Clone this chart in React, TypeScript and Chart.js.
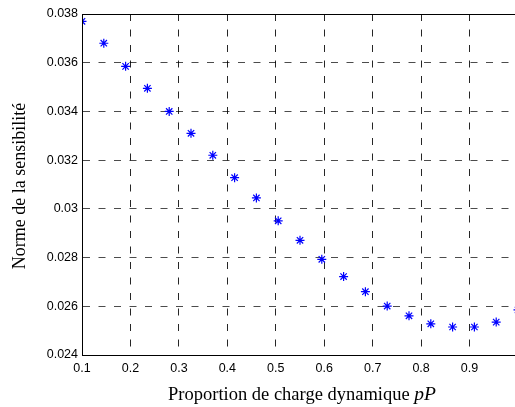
import React, { useEffect, useRef } from "react";
import { Chart, registerables } from "chart.js";

Chart.register(...registerables);

const proportions = [0.1, 0.145, 0.19, 0.235, 0.28, 0.325, 0.37, 0.415, 0.46, 0.505, 0.55, 0.595, 0.64, 0.685, 0.73, 0.775, 0.82, 0.865, 0.91, 0.955, 1.0];
const norms = [0.0377, 0.0368, 0.03585, 0.03495, 0.034, 0.0331, 0.0322, 0.03128, 0.03045, 0.02951, 0.02871, 0.02793, 0.02722, 0.0266, 0.02601, 0.02561, 0.02528, 0.02515, 0.02515, 0.02535, 0.02585];

const xTitle = "Proportion de charge dynamique ";
const xTitleItalic = "pP";
const yTitle = "Norme de la sensibilité";

const X_MIN = 0.1, X_MAX = 1.0, X_STEP = 0.1;
const Y_MIN = 0.024, Y_MAX = 0.038, Y_STEP = 0.002;

const CANVAS_W = 525;
const CANVAS_H = 407;

export default function App() {
  const ref = useRef<HTMLCanvasElement | null>(null);

  useEffect(() => {
    if (!ref.current) return;
    const titlesPlugin = {
      id: "matlabTitles",
      afterDraw(chart: any) {
        const { ctx, chartArea } = chart;
        ctx.save();
        // frame
        ctx.strokeStyle = "#000";
        ctx.lineWidth = 1;
        ctx.setLineDash([]);
        ctx.strokeRect(
          Math.round(chartArea.left) + 0.5,
          Math.round(chartArea.top) + 0.5,
          Math.round(chartArea.right - chartArea.left),
          Math.round(chartArea.bottom - chartArea.top)
        );
        // x title
        ctx.fillStyle = "#000";
        ctx.textBaseline = "alphabetic";
        ctx.textAlign = "left";
        const normalFont = "18.5px 'Liberation Serif', 'Times New Roman', serif";
        const italicFont = "italic 19.5px 'Liberation Serif', 'Times New Roman', serif";
        ctx.font = normalFont;
        const w1 = ctx.measureText(xTitle).width;
        ctx.font = italicFont;
        const w2 = ctx.measureText(xTitleItalic).width;
        const cx = 302;
        const startX = cx - (w1 + w2) / 2;
        const baseY = 400;
        ctx.font = normalFont;
        ctx.fillText(xTitle, startX, baseY);
        ctx.font = italicFont;
        ctx.fillText(xTitleItalic, startX + w1, baseY);
        // y title
        ctx.translate(25, 186);
        ctx.rotate(-Math.PI / 2);
        ctx.font = "18px 'Liberation Serif', 'Times New Roman', serif";
        ctx.textAlign = "center";
        ctx.textBaseline = "alphabetic";
        ctx.fillText(yTitle, 0, 0);
        ctx.restore();
      },
    };

    const chart = new Chart(ref.current, {
      type: "scatter",
      data: {
        datasets: [
          {
            data: proportions.map((p, i) => ({ x: p, y: norms[i] })),
            pointStyle: "star",
            radius: 4.5,
            borderColor: "#0000ff",
            backgroundColor: "#0000ff",
            borderWidth: 1.2,
            showLine: false,
            clip: 0,
          } as any,
        ],
      },
      options: {
        animation: false,
        responsive: false,
        maintainAspectRatio: false,
        events: [],
        layout: { padding: { top: 14, right: CANVAS_W - 518, left: 0, bottom: 0 } },
        plugins: { legend: { display: false }, tooltip: { enabled: false } },
        scales: {
          x: {
            type: "linear",
            min: X_MIN,
            max: X_MAX,
            afterFit: (s: any) => { s.height = 52; },
            ticks: {
              stepSize: X_STEP,
              padding: 6,
              maxRotation: 0,
              color: "#000",
              font: { family: "'Liberation Sans', Arial, sans-serif", size: 12.5 },
              callback: (v: any) => (Number(v) >= X_MAX - 1e-9 ? "" : Number(Number(v).toFixed(1)).toString()),
            },
            grid: { color: "rgba(0,0,0,0.85)", lineWidth: 1, drawTicks: false },
            border: { display: true, color: "#000", width: 1, dash: [7, 8.5] },
          },
          y: {
            type: "linear",
            min: Y_MIN,
            max: Y_MAX,
            afterFit: (s: any) => { s.width = 82; },
            ticks: {
              stepSize: Y_STEP,
              padding: 4,
              color: "#000",
              font: { family: "'Liberation Sans', Arial, sans-serif", size: 12.5 },
              callback: (v: any) => Number(Number(v).toFixed(3)).toString(),
            },
            grid: { color: "rgba(0,0,0,0.7)", lineWidth: 1, drawTicks: false },
            border: { display: true, color: "#000", width: 1, dash: [7, 8.5] },
          },
        },
      },
      plugins: [titlesPlugin],
    });
    return () => chart.destroy();
  }, []);

  return (
    <div style={{ position: "fixed", left: 0, top: 0, width: 515, height: 407, overflow: "hidden", background: "#fff" }}>
      <canvas ref={ref} width={CANVAS_W} height={CANVAS_H} style={{ display: "block", width: CANVAS_W, height: CANVAS_H }} />
    </div>
  );
}
